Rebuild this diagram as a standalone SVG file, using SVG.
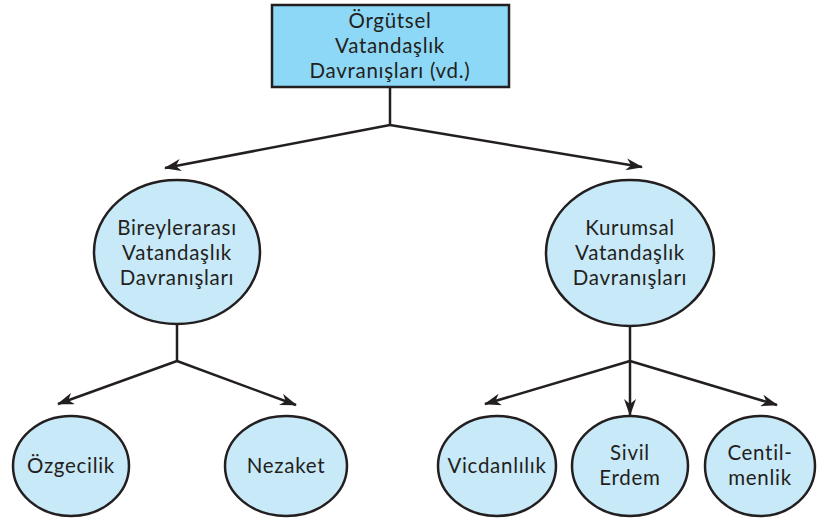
<svg xmlns="http://www.w3.org/2000/svg" width="817" height="520" viewBox="0 0 817 520">
  <style>
    .box { fill: #8dd8f6; stroke: #231f20; stroke-width: 2.5; }
    .oval { fill: #c8e9f8; stroke: #231f20; stroke-width: 2.5; }
    .lbl { font-family: Lato, "Open Sans", "Liberation Sans", sans-serif; font-size: 20.5px; letter-spacing: 0.7px; fill: #231f20; text-anchor: middle; }
    .wire { fill: none; stroke: #231f20; stroke-width: 2.5; }
  </style>
  <defs>
    <marker id="arrow" viewBox="0 0 17 12" refX="16" refY="6" markerWidth="17" markerHeight="12" markerUnits="userSpaceOnUse" orient="auto">
      <path d="M0,0 L17,6 L0,12 L5,6 z" fill="#231f20"/>
    </marker>
  </defs>

  <rect width="817" height="520" fill="#ffffff"/>

  <!-- connectors -->
  <g id="connectors" class="wire">
    <path d="M390,87 V125"/>
    <path d="M390,125 L165,168" marker-end="url(#arrow)"/>
    <path d="M390,125 L642,167" marker-end="url(#arrow)"/>
    <path d="M177,325 V361"/>
    <path d="M177,361 L58,404" marker-end="url(#arrow)"/>
    <path d="M177,361 L296,405" marker-end="url(#arrow)"/>
    <path d="M630,326 V361"/>
    <path d="M630,361 L485,404" marker-end="url(#arrow)"/>
    <path d="M630,361 V415" marker-end="url(#arrow)"/>
    <path d="M630,361 L777,405" marker-end="url(#arrow)"/>
  </g>

  <!-- root -->
  <g id="node-root">
    <rect class="box" x="272" y="5" width="237" height="82"/>
    <text class="lbl" x="390" y="28"><tspan x="390">Örgütsel</tspan><tspan x="390" dy="25">Vatandaşlık</tspan><tspan x="390" dy="25">Davranışları (vd.)</tspan></text>
  </g>

  <!-- second level -->
  <g id="node-bireylerarasi">
    <ellipse class="oval" cx="177" cy="252" rx="83" ry="72"/>
    <text class="lbl" x="177" y="235"><tspan x="177">Bireylerarası</tspan><tspan x="177" dy="25">Vatandaşlık</tspan><tspan x="177" dy="25">Davranışları</tspan></text>
  </g>
  <g id="node-kurumsal">
    <ellipse class="oval" cx="630" cy="253" rx="84" ry="73"/>
    <text class="lbl" x="630" y="235"><tspan x="630">Kurumsal</tspan><tspan x="630" dy="25">Vatandaşlık</tspan><tspan x="630" dy="25">Davranışları</tspan></text>
  </g>

  <!-- leaves -->
  <g id="node-ozgecilik">
    <ellipse class="oval" cx="71" cy="466" rx="58" ry="50"/>
    <text class="lbl" x="71" y="473">Özgecilik</text>
  </g>
  <g id="node-nezaket">
    <ellipse class="oval" cx="286" cy="466" rx="61" ry="50"/>
    <text class="lbl" x="286" y="473">Nezaket</text>
  </g>
  <g id="node-vicdanlilik">
    <ellipse class="oval" cx="497" cy="466" rx="59" ry="50"/>
    <text class="lbl" x="497" y="473">Vicdanlılık</text>
  </g>
  <g id="node-sivil-erdem">
    <ellipse class="oval" cx="630" cy="466" rx="58" ry="50"/>
    <text class="lbl" x="630" y="460"><tspan x="630">Sivil</tspan><tspan x="630" dy="25">Erdem</tspan></text>
  </g>
  <g id="node-centilmenlik">
    <ellipse class="oval" cx="760" cy="466" rx="55" ry="50"/>
    <text class="lbl" x="760" y="460"><tspan x="760">Centil-</tspan><tspan x="760" dy="25">menlik</tspan></text>
  </g>
</svg>
